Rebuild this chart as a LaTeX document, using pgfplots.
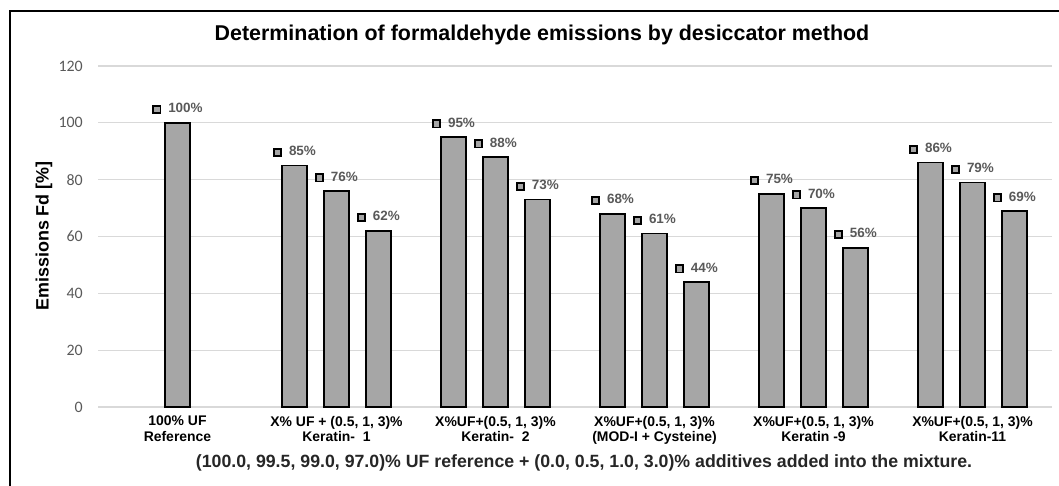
\documentclass[border=0pt]{standalone}
\usepackage{fontspec}
\setmainfont{Liberation Sans}
\newfontfamily\calib{Carlito}
\usepackage{pgfplots}
\pgfplotsset{compat=1.18}
\definecolor{barfill}{HTML}{A6A6A6}
\definecolor{gridc}{HTML}{D9D9D9}
\definecolor{lblc}{HTML}{595959}
\definecolor{xlc}{HTML}{262626}
\newcommand\lsq{{\setlength\fboxsep{0pt}\setlength\fboxrule{1.7bp}\raisebox{0.5bp}{\fcolorbox{black}{barfill}{\rule{5.5bp}{0pt}\rule{0pt}{5.5bp}}}}}
\begin{document}
\begin{tikzpicture}[x=1bp,y=1bp]
\useasboundingbox (0,0) rectangle (1059,486);
\draw[line width=1.3bp, black] (10,0) -- (10,475) -- (1059,475);
\begin{axis}[
  at={(98bp,79bp)}, anchor=south west,
  scale only axis, width=954bp, height=341bp,
  xmin=-0.5, xmax=5.5, ymin=0, ymax=120,
  axis line style={draw=none},
  major tick length=0pt,
  ytick={0,20,...,120},
  ymajorgrids, grid style={gridc, line width=1.3bp},
  yticklabel style={inner sep=0pt, xshift=-15bp, text=lblc, font=\calib\fontsize{16}{18}\selectfont},
  /pgf/number format/assume math mode=true,
  xtick={0,...,5},
  xticklabels={{100\% UF\\Reference},{X\% UF + (0.5, 1, 3)\%\\Keratin-\ \ 1},{X\%UF+(0.5, 1, 3)\%\\Keratin-\ \ 2},{X\%UF+(0.5, 1, 3)\%\\(MOD-I + Cysteine)},{X\%UF+(0.5, 1, 3)\%\\Keratin -9},{X\%UF+(0.5, 1, 3)\%\\Keratin-11}},
  xticklabel style={align=center, inner sep=0pt, yshift=-9bp, font=\bfseries\fontsize{14}{15.5}\selectfont},
  ybar, bar width=0.157, bar shift=0,
  nodes near coords={\lsq\hspace{7bp}\pgfmathprintnumber{\pgfplotspointmeta}\%},
  every node near coord/.append style={anchor=center, yshift=14bp, inner sep=0pt, text=lblc, font=\bfseries\fontsize{13.5}{15}\selectfont},
  clip=false,
]
\addplot[draw=black, line width=1.5bp, fill=barfill] coordinates {
  (0,100)
  (0.736,85) (1,76) (1.264,62)
  (1.736,95) (2,88) (2.264,73)
  (2.736,68) (3,61) (3.264,44)
  (3.736,75) (4,70) (4.264,56)
  (4.736,86) (5,79) (5.264,69)
};
\end{axis}
\node[font=\bfseries\fontsize{21.5}{24}\selectfont] at (542,451) {Determination of formaldehyde emissions by desiccator method};
\node[font=\bfseries\fontsize{17.8}{20}\selectfont, text=xlc] at (584,23) {(100.0, 99.5, 99.0, 97.0)\% UF reference + (0.0, 0.5, 1.0, 3.0)\% additives added into the mixture.};
\node[rotate=90, font=\bfseries\fontsize{18}{21}\selectfont] at (44,250) {Emissions Fd [\%]};
\end{tikzpicture}
\end{document}
